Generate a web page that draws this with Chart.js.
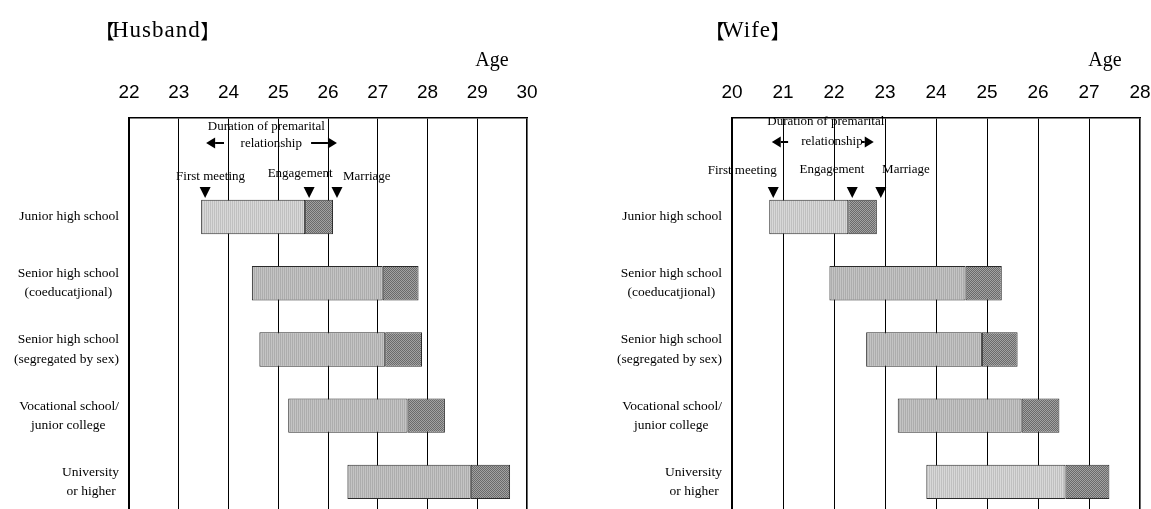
<!DOCTYPE html>
<html>
<head>
<meta charset="utf-8">
<script src="https://cdn.jsdelivr.net/npm/chart.js@4.4.0/dist/chart.umd.min.js"></script>
<style>
  html, body { margin: 0; padding: 0; background: #fff; overflow: hidden; width: 1151px; height: 509px; }
  .panel { position: absolute; top: 0; }
  #husbandBox { left: 0; }
  #wifeBox { left: 575px; }
</style>
</head>
<body>
<div id="husbandBox" class="panel"><canvas id="husband" width="575" height="540"></canvas></div>
<div id="wifeBox" class="panel"><canvas id="wife" width="600" height="540"></canvas></div>
<script>
// Education groups (rows, top to bottom)
const categories = [
  ['Junior high school'],
  ['Senior high school', '(coeducatjional)\u00a0\u00a0'],
  ['Senior high school', '(segregated by sex)'],
  ['Vocational school/', 'junior college\u00a0\u00a0\u00a0\u00a0'],
  ['University', 'or higher\u00a0']
];

// Mean age at each event — husbands
const husbandFirstMeeting = [23.45, 24.47, 24.62, 25.20, 26.39];
const husbandEngagement   = [25.54, 27.10, 27.15, 27.60, 28.87];
const husbandMarriage     = [26.10, 27.82, 27.89, 28.35, 29.66];

// Mean age at each event — wives
const wifeFirstMeeting = [20.73, 21.91, 22.63, 23.25, 23.81];
const wifeEngagement   = [22.28, 24.58, 24.90, 25.68, 26.54];
const wifeMarriage     = [22.84, 25.29, 25.60, 26.42, 27.40];

// Age axis ranges (tick labels run in steps of one year)
const husbandAgeRange = [22, 30];
const wifeAgeRange = [20, 28];

Chart.defaults.color = '#000';
const SERIF = '"Liberation Serif", "Times New Roman", serif';
const SANS = '"Liberation Sans", Arial, sans-serif';
const CJK = '"Noto Sans CJK JP", "Noto Sans CJK SC", sans-serif';

function makePattern(w, h, draw) {
  const c = document.createElement('canvas');
  c.width = w; c.height = h;
  const g = c.getContext('2d');
  draw(g);
  return g.createPattern(c, 'repeat');
}
// fine vertical-hatch grey (pale)
const paleFill = makePattern(2, 2, g => {
  g.fillStyle = '#d8d8d8'; g.fillRect(0, 0, 2, 2);
  g.fillStyle = '#c0c0c0'; g.fillRect(0, 0, 1, 2);
});
// fine vertical-hatch grey (medium)
const midFill = makePattern(2, 2, g => {
  g.fillStyle = '#c4c4c4'; g.fillRect(0, 0, 2, 2);
  g.fillStyle = '#adadad'; g.fillRect(0, 0, 1, 2);
});
// dark checker for the engagement period
const darkFill = makePattern(2, 2, g => {
  g.fillStyle = '#a2a2a2'; g.fillRect(0, 0, 2, 2);
  g.fillStyle = '#6a6a6a'; g.fillRect(0, 0, 1, 1); g.fillRect(1, 1, 1, 1);
});

function drawArrow(ctx, x0, x1, y) {
  const dir = Math.sign(x1 - x0);
  const head = 9;
  ctx.beginPath();
  ctx.lineWidth = 2;
  ctx.moveTo(x0, y);
  ctx.lineTo(x1 - dir * head, y);
  ctx.stroke();
  ctx.beginPath();
  ctx.moveTo(x1, y);
  ctx.lineTo(x1 - dir * head, y - 5.5);
  ctx.lineTo(x1 - dir * head, y + 5.5);
  ctx.closePath();
  ctx.fill();
}

// bracketed panel heading: 【word】 with the brackets hugging the word
function drawHeading(ctx, word, x, y) {
  const fs = 23, bs = 20;
  ctx.textAlign = 'left';
  ctx.font = fs + 'px ' + SERIF;
  ctx.letterSpacing = '1px';
  const w = ctx.measureText(word).width - 1;
  ctx.fillText(word, x, y);
  ctx.letterSpacing = '0px';
  ctx.font = '300 ' + bs + 'px ' + CJK;
  ctx.fillText('【', x - 0.86 * bs, y);
  ctx.fillText('】', x + w + 0.02 * bs, y);
}

// Title, axis caption and the event key drawn over the first row
const premaritalNotes = {
  id: 'premaritalNotes',
  afterDraw(chart, args, o) {
    const { ctx, chartArea } = chart;
    const x = chart.scales.x;
    const px = v => x.getPixelForValue(v);
    ctx.save();
    ctx.fillStyle = '#000';
    ctx.strokeStyle = '#000';
    ctx.textBaseline = 'middle';

    drawHeading(ctx, o.title, o.titleX, 31);

    ctx.textAlign = 'center';
    ctx.font = '20px ' + SERIF;
    ctx.fillText('Age', chartArea.right - 35, 61);

    ctx.font = '13px ' + SERIF;
    ctx.fillText('Duration of premarital', px(o.duration[0]), o.durationY[0]);
    ctx.fillText('relationship', px(o.duration[1]), o.durationY[1]);
    drawArrow(ctx, px(o.leftArrow[0]), px(o.leftArrow[1]), o.arrowY);
    drawArrow(ctx, px(o.rightArrow[0]), px(o.rightArrow[1]), o.arrowY);

    o.events.forEach(ev => {
      ctx.fillText(ev.text, px(ev.at), ev.y);
    });
    // markers point at the first row's event ages
    o.markers.forEach(v => {
      const cx = px(v) + 4;
      ctx.beginPath();
      ctx.moveTo(cx - 5.5, 187);
      ctx.lineTo(cx + 5.5, 187);
      ctx.lineTo(cx, 198);
      ctx.closePath();
      ctx.fill();
    });
    ctx.restore();
  }
};

function buildChart(id, cfg) {
  const labels = [''].concat(categories);
  const courtship = [null].concat(cfg.first.map((v, i) => [v, cfg.engage[i]]));
  const engaged = [null].concat(cfg.engage.map((v, i) => [v, cfg.marry[i]]));
  const barStyle = {
    borderColor: '#2a2a2a', borderWidth: 1, borderSkipped: false,
    grouped: false, barPercentage: 0.52, categoryPercentage: 1
  };
  return new Chart(document.getElementById(id), {
    type: 'bar',
    data: {
      labels,
      datasets: [
        Object.assign({ label: 'First meeting to engagement', data: courtship,
          backgroundColor: [null].concat(cfg.courtFills) }, barStyle),
        Object.assign({ label: 'Engagement to marriage', data: engaged,
          backgroundColor: darkFill }, barStyle)
      ]
    },
    plugins: [premaritalNotes],
    options: {
      indexAxis: 'y',
      responsive: false,
      animation: false,
      layout: { padding: { top: 57.6, right: cfg.padRight, bottom: 25, left: 0 } },
      plugins: {
        legend: { display: false },
        tooltip: { enabled: false },
        premaritalNotes: cfg.notes
      },
      scales: {
        x: {
          type: 'linear', position: 'top',
          min: cfg.range[0], max: cfg.range[1],
          ticks: { stepSize: 1, padding: 13, autoSkip: false, maxRotation: 0,
                   color: '#000', font: { family: SANS, size: 19 } },
          grid: { color: '#000', drawTicks: false,
                  lineWidth: c => (c.index === cfg.range[1] - cfg.range[0] ? 1.6 : 1) },
          border: { display: true, color: '#000', width: 1.6 },
          afterFit: s => { s.height = 60; }
        },
        y: {
          type: 'category', position: 'left',
          grid: { display: false, drawTicks: false },
          border: { display: true, color: '#000', width: 2 },
          ticks: { crossAlign: 'near', padding: 10, autoSkip: false, color: '#000',
                   font: { family: SERIF, size: 13.5, lineHeight: 1.42 } },
          afterFit: s => { s.width = cfg.axisWidth; }
        }
      }
    }
  });
}

buildChart('husband', {
  first: husbandFirstMeeting, engage: husbandEngagement, marry: husbandMarriage,
  range: husbandAgeRange, axisWidth: 129, padRight: 48,
  courtFills: [paleFill, midFill, midFill, midFill, midFill],
  notes: {
    title: 'Husband', titleX: 112,
    duration: [24.76, 24.86], durationY: [127, 144],
    leftArrow: [23.91, 23.55], rightArrow: [25.66, 26.18], arrowY: 143,
    events: [
      { text: 'First meeting', at: 23.64, y: 177 },
      { text: 'Engagement', at: 25.44, y: 174 },
      { text: 'Marriage', at: 26.78, y: 177 }
    ],
    markers: [husbandFirstMeeting[0], husbandEngagement[0], husbandMarriage[0]]
  }
});

buildChart('wife', {
  first: wifeFirstMeeting, engage: wifeEngagement, marry: wifeMarriage,
  range: wifeAgeRange, axisWidth: 157, padRight: 35,
  courtFills: [paleFill, midFill, midFill, midFill, paleFill],
  notes: {
    title: 'Wife', titleX: 147,
    duration: [21.84, 21.96], durationY: [122, 142],
    leftArrow: [21.10, 20.78], rightArrow: [22.53, 22.78], arrowY: 142,
    events: [
      { text: 'First meeting', at: 20.2, y: 171 },
      { text: 'Engagement', at: 21.96, y: 170 },
      { text: 'Marriage', at: 23.41, y: 170 }
    ],
    markers: [wifeFirstMeeting[0], wifeEngagement[0], wifeMarriage[0]]
  }
});
</script>
</body>
</html>
